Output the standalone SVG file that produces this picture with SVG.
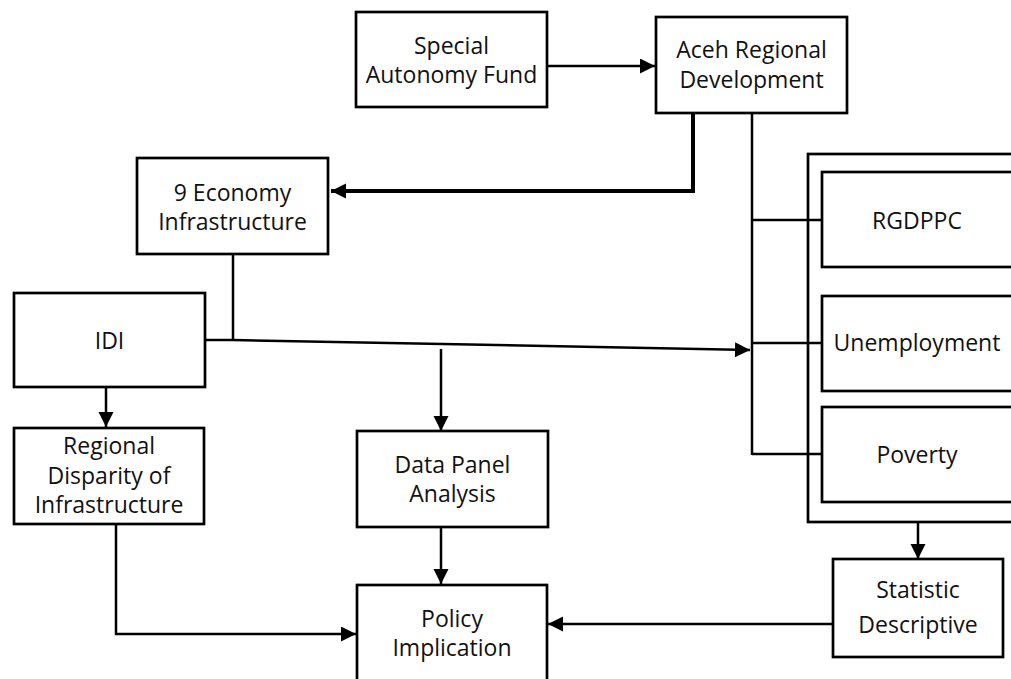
<svg xmlns="http://www.w3.org/2000/svg" width="1011" height="679" viewBox="0 0 1011 679">
<style>
.box{fill:#fff;stroke:#000;stroke-width:2.7}
.lbl{font-family:"Open Sans","Noto Sans",sans-serif;font-size:23px;fill:#111;text-anchor:middle}
.ln{fill:none;stroke:#000;stroke-width:2.5}
.thick{fill:none;stroke:#000;stroke-width:4}
</style>
<defs>
<marker id="ah" markerUnits="userSpaceOnUse" markerWidth="16" markerHeight="16" refX="15" refY="7.5" orient="auto">
<path d="M0,0 L15,7.5 L0,15 z" fill="#000"/>
</marker>
</defs>
<rect width="1011" height="679" fill="#fff"/>

<g id="outer-group">
<rect class="box" x="808" y="154" width="230" height="368"/>
</g>

<g id="connectors">
<line class="ln" x1="547" y1="66" x2="655" y2="66" marker-end="url(#ah)"/>
<polyline class="thick" points="693,113 693,191 331,191" marker-end="url(#ah)"/>
<line class="ln" x1="752" y1="113" x2="752" y2="455"/>
<line class="ln" x1="752" y1="220" x2="822" y2="220"/>
<line class="ln" x1="752" y1="343" x2="822" y2="343"/>
<line class="ln" x1="752" y1="454" x2="822" y2="454"/>
<line class="ln" x1="233" y1="255" x2="233" y2="340"/>
<polyline class="ln" points="204,340 233,340 750,350" marker-end="url(#ah)"/>
<line class="ln" x1="441" y1="349" x2="441" y2="431" marker-end="url(#ah)"/>
<line class="ln" x1="106" y1="388" x2="106" y2="427" marker-end="url(#ah)"/>
<line class="ln" x1="441" y1="527" x2="441" y2="584" marker-end="url(#ah)"/>
<polyline class="ln" points="116,524 116,634 356,634" marker-end="url(#ah)"/>
<line class="ln" x1="918" y1="522" x2="918" y2="559" marker-end="url(#ah)"/>
<line class="ln" x1="833" y1="624" x2="548" y2="624" marker-end="url(#ah)"/>
</g>

<g id="special-autonomy-fund">
<rect class="box" x="356" y="12" width="191" height="95"/>
<text class="lbl" x="451.5" y="54">Special</text>
<text class="lbl" x="451.5" y="83">Autonomy Fund</text>
</g>

<g id="aceh-regional-development">
<rect class="box" x="656" y="17" width="191" height="96"/>
<text class="lbl" x="751.5" y="58">Aceh Regional</text>
<text class="lbl" x="751.5" y="88">Development</text>
</g>

<g id="economy-infrastructure">
<rect class="box" x="137" y="158" width="191" height="96"/>
<text class="lbl" x="232.5" y="201">9 Economy</text>
<text class="lbl" x="232.5" y="230">Infrastructure</text>
</g>

<g id="idi">
<rect class="box" x="14" y="293" width="191" height="94"/>
<text class="lbl" x="109.5" y="349">IDI</text>
</g>

<g id="regional-disparity">
<rect class="box" x="14" y="428" width="190" height="96"/>
<text class="lbl" x="109" y="454">Regional</text>
<text class="lbl" x="109" y="484">Disparity of</text>
<text class="lbl" x="109" y="513">Infrastructure</text>
</g>

<g id="data-panel-analysis">
<rect class="box" x="357" y="431" width="191" height="96"/>
<text class="lbl" x="452.5" y="473">Data Panel</text>
<text class="lbl" x="452.5" y="502">Analysis</text>
</g>

<g id="policy-implication">
<rect class="box" x="357" y="585" width="190" height="100"/>
<text class="lbl" x="452" y="627">Policy</text>
<text class="lbl" x="452" y="656">Implication</text>
</g>

<g id="statistic-descriptive">
<rect class="box" x="833" y="559" width="170" height="98"/>
<text class="lbl" x="918" y="598">Statistic</text>
<text class="lbl" x="918" y="633">Descriptive</text>
</g>

<g id="rgdppc">
<rect class="box" x="822" y="172" width="210" height="95"/>
<text class="lbl" x="917" y="229">RGDPPC</text>
</g>

<g id="unemployment">
<rect class="box" x="822" y="296" width="210" height="95"/>
<text class="lbl" x="917" y="351">Unemployment</text>
</g>

<g id="poverty">
<rect class="box" x="822" y="407" width="210" height="95"/>
<text class="lbl" x="917" y="463">Poverty</text>
</g>
</svg>
